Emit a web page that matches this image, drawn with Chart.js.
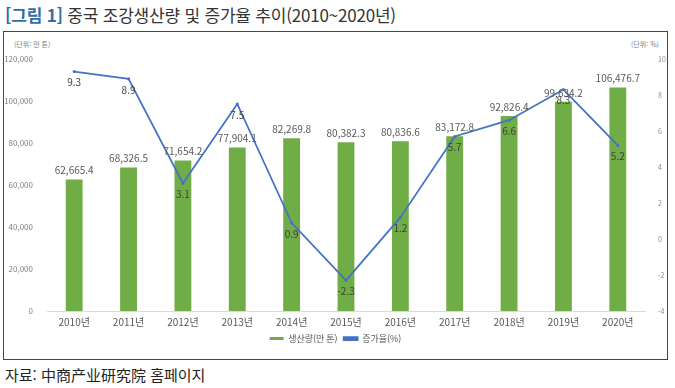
<!DOCTYPE html>
<html lang="ko">
<head>
<meta charset="UTF-8">
<title>중국 조강생산량 및 증가율 추이</title>
<script src="https://cdn.jsdelivr.net/npm/chart.js@4.4.1/dist/chart.umd.min.js"></script>
<style>
  body { margin: 0; background: #fff; font-family: "Noto Sans CJK KR", "Noto Sans", sans-serif; }
  #title { position: absolute; left: 5px; top: 2px; font-size: 17px; color: #333; white-space: nowrap; letter-spacing: -0.2px; }
  #title b { color: #2f6ea6; font-weight: bold; }
  #box { position: absolute; left: 3px; top: 31px; width: 663px; height: 327px; border: 1.5px solid #25505f; }
  #box canvas { position: absolute; left: 0; top: 0; }
  .unit { position: absolute; top: 7px; font-size: 7px; color: #808080; }
  #source { position: absolute; left: 5px; top: 364px; font-size: 15px; color: #222; white-space: nowrap; }
</style>
</head>
<body>
<div id="title"><b>[그림 1]</b> 중국 조강생산량 및 증가율 추이(2010~2020년)</div>
<div id="box">
  <span class="unit" style="left:10px">(단위: 만 톤)</span>
  <span class="unit" style="left:627px">(단위: %)</span>
  <canvas id="myChart" width="663" height="327"></canvas>
</div>
<div id="source">자료: 中商产业研究院 홈페이지</div>
<script>
  let years = ["2010년","2011년","2012년","2013년","2014년","2015년","2016년","2017년","2018년","2019년","2020년"]
  let output = [62665.4, 68326.5, 71654.2, 77904.1, 82269.8, 80382.3, 80836.6, 83172.8, 92826.4, 99634.2, 106476.7]
  let growth = [9.3, 8.9, 3.1, 7.5, 0.9, -2.3, 1.2, 5.7, 6.6, 8.3, 5.2]
  let leftTicks = [0, 20000, 40000, 60000, 80000, 100000, 120000]
  let rightTicks = [-4, -2, 0, 2, 4, 6, 8, 10]

  const FONT = '"Noto Sans CJK KR", "Noto Sans", sans-serif'

  // value labels above bars and below line points
  const valueLabels = {
    id: 'valueLabels',
    afterDatasetsDraw(chart) {
      const ctx = chart.ctx
      ctx.save()
      ctx.font = '10px ' + FONT
      ctx.textAlign = 'center'
      chart.getDatasetMeta(0).data.forEach((el, i) => {
        ctx.fillStyle = '#595959'
        ctx.textBaseline = 'bottom'
        ctx.fillText(output[i].toLocaleString('en-US', {minimumFractionDigits: 1}), el.x, el.y - 4)
      })
      chart.getDatasetMeta(1).data.forEach((el, i) => {
        ctx.fillStyle = '#404040'
        ctx.textBaseline = 'top'
        ctx.fillText(growth[i].toFixed(1), el.x, el.y + 6)
      })
      ctx.restore()
    }
  }

  const ctx = document.getElementById('myChart').getContext('2d')
  const myChart = new Chart(ctx, {
    data: {
      labels: years,
      datasets: [{
        type: 'bar',
        label: '생산량(만 톤)',
        data: output,
        backgroundColor: '#70ad47',
        yAxisID: 'y',
        barPercentage: 0.31,
        categoryPercentage: 1,
        order: 1
      }, {
        type: 'line',
        label: '증가율(%)',
        data: growth,
        borderColor: '#4472c4',
        backgroundColor: '#4472c4',
        borderWidth: 1.75,
        pointRadius: 1.5,
        pointBorderWidth: 0,
        pointBackgroundColor: '#4472c4',
        tension: 0,
        yAxisID: 'y1',
        order: 0
      }]
    },
    options: {
      responsive: false,
      animation: false,
      layout: { padding: { top: 27, left: 0, right: 0, bottom: 6 } },
      plugins: {
        tooltip: { enabled: false },
        legend: {
          position: 'bottom',
          labels: {
            boxWidth: 14,
            boxHeight: 3,
            padding: 6,
            color: '#595959',
            font: { family: FONT, size: 9 },
            sort: (a, b) => a.datasetIndex - b.datasetIndex
          }
        }
      },
      scales: {
        x: {
          grid: { display: false },
          border: { color: '#d9d9d9' },
          ticks: { color: '#595959', font: { family: FONT, size: 10 }, padding: -3 },
          afterFit: s => { s.height = 17 }
        },
        y: {
          position: 'left',
          min: 0, max: 120000,
          afterBuildTicks: s => { s.ticks = leftTicks.map(v => ({ value: v })) },
          grid: { display: false },
          border: { display: false },
          ticks: {
            color: '#7f7f7f',
            font: { family: FONT, size: 8 },
            padding: 6,
            callback: v => v.toLocaleString('en-US')
          },
          afterFit: s => { s.width = 43 }
        },
        y1: {
          position: 'right',
          min: -4, max: 10,
          afterBuildTicks: s => { s.ticks = rightTicks.map(v => ({ value: v })) },
          grid: { display: false },
          border: { display: false },
          ticks: { color: '#8c8c8c', font: { family: FONT, size: 7 }, padding: 5 },
          afterFit: s => { s.width = 22 }
        }
      }
    },
    plugins: [valueLabels]
  })
</script>
</body>
</html>
